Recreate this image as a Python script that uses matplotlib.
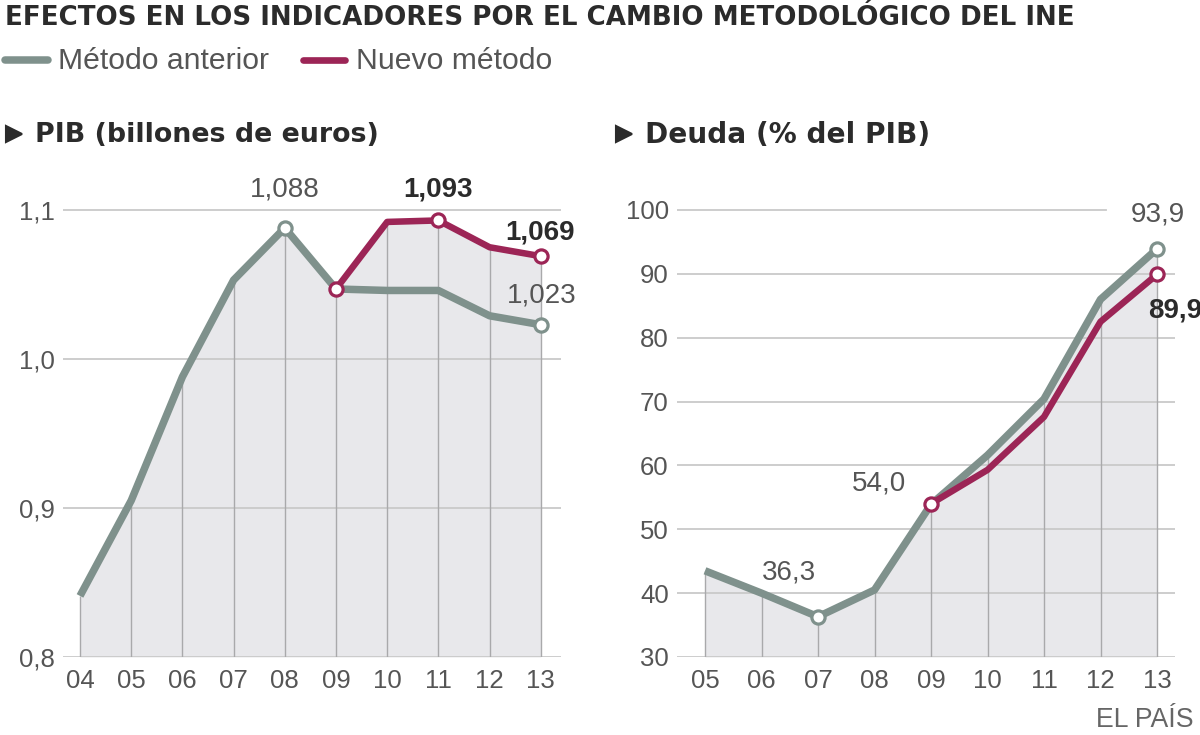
import numpy as np
import matplotlib
matplotlib.use("Agg")
import matplotlib.pyplot as plt
from matplotlib.lines import Line2D

# ---------------- data ----------------
pib_years = ["04", "05", "06", "07", "08", "09", "10", "11", "12", "13"]
pib_anterior = [0.841, 0.905, 0.988, 1.053, 1.088, 1.047, 1.046, 1.046, 1.029, 1.023]
pib_nuevo = [np.nan, np.nan, np.nan, np.nan, np.nan, 1.047, 1.092, 1.093, 1.075, 1.069]
pib_yticks = [0.8, 0.9, 1.0, 1.1]
pib_yticklabels = ["0,8", "0,9", "1,0", "1,1"]

deuda_years = ["05", "06", "07", "08", "09", "10", "11", "12", "13"]
deuda_anterior = [43.5, 40.0, 36.3, 40.5, 53.9, 61.6, 70.4, 86.0, 93.9]
deuda_nuevo = [np.nan, np.nan, np.nan, np.nan, 54.0, 59.3, 67.6, 82.5, 89.9]
deuda_yticks = [30, 40, 50, 60, 70, 80, 90, 100]
deuda_yticklabels = ["30", "40", "50", "60", "70", "80", "90", "100"]

# ---------------- style ----------------
W, H = 1200, 735
GRAY = "#7f918c"
RED = "#9c2556"
FILL = "#e8e8eb"
GRID = "#c9c9c9"
VGRID = "#a9a9ab"
TXT = "#555555"
DARK = "#2b2b2b"
SANS = ["Liberation Sans", "DejaVu Sans"]
BOLD = ["DejaVu Sans"]

fig = plt.figure(figsize=(12, 7.35), dpi=100)
fig.patch.set_facecolor("white")


def ax_at(x0, x1, ytop, ybot):
    return fig.add_axes([x0 / W, 1 - ybot / H, (x1 - x0) / W, (ybot - ytop) / H])


def draw(ax, cats, old, new, yticks, ylabels, xlim, ylim, short_top=None):
    x = np.arange(len(cats))
    old = np.array(old, float)
    new = np.array(new, float)
    top = np.fmax(old, new)
    ax.set_xlim(*xlim)
    ax.set_ylim(*ylim)
    ax.fill_between(x, ylim[0], top, color=FILL, lw=0, zorder=1)
    for yt in yticks:
        xmax = 1.0
        if short_top is not None and yt == yticks[-1]:
            xmax = short_top
        ax.axhline(yt, xmin=0, xmax=xmax, color=GRID, lw=1.3, zorder=2)
    ax.vlines(x, ylim[0], top, color=VGRID, lw=1.0, zorder=2)
    ax.plot(x, old, color=GRAY, lw=5.4, solid_joinstyle="round",
            solid_capstyle="butt", zorder=3)
    ax.plot(x, new, color=RED, lw=4.7, solid_joinstyle="round",
            solid_capstyle="butt", zorder=4)
    for s in ax.spines.values():
        s.set_visible(False)
    ax.set_xticks(x, cats)
    ax.set_yticks(yticks, ylabels)
    ax.tick_params(length=0, labelsize=18.5, labelcolor=TXT)
    ax.tick_params(axis="x", pad=9)
    ax.tick_params(axis="y", pad=6)
    for lab in ax.get_xticklabels() + ax.get_yticklabels():
        lab.set_family(SANS)
    ax.patch.set_alpha(0)
    return x, old, new


def marker(ax, xv, yv, color):
    ax.plot([xv], [yv], "o", ms=9.5, mfc="white", mec=color, mew=2.3, zorder=5)


def label(ax, xv, yv, text, dx, dy, bold=False):
    ax.annotate(text, (xv, yv), xytext=(dx * 0.72, dy * 0.72), textcoords="offset points",
                ha="center", va="center", fontsize=20, family=SANS,
                fontweight="bold" if bold else "normal",
                color=DARK if bold else TXT, zorder=6, annotation_clip=False)


# ---------------- left: PIB ----------------
axL = ax_at(63, 561, 175, 657)
xL, oL, nL = draw(axL, pib_years, pib_anterior, pib_nuevo, pib_yticks, pib_yticklabels,
                  ((63 - 80) / 51.2, (561 - 80) / 51.2),
                  (0.8, 0.8 + (657 - 175) / 1490.0))
marker(axL, xL[4], oL[4], GRAY)
marker(axL, xL[9], oL[9], GRAY)
marker(axL, xL[5], nL[5], RED)
marker(axL, xL[7], nL[7], RED)
marker(axL, xL[9], nL[9], RED)
label(axL, xL[4], oL[4], "1,088", 0, 38)
label(axL, xL[7], nL[7], "1,093", 0, 31, bold=True)
label(axL, xL[9], nL[9], "1,069", -1, 24, bold=True)
label(axL, xL[9], oL[9], "1,023", 1, 29)

# ---------------- right: Deuda ----------------
axR = ax_at(677, 1175, 175, 657)
xR, oR, nR = draw(axR, deuda_years, deuda_anterior, deuda_nuevo, deuda_yticks, deuda_yticklabels,
                  ((677 - 705) / 56.5, (1175 - 705) / 56.5),
                  (30, 30 + (657 - 175) / 6.386),
                  short_top=(1106 - 677) / 498.0)
marker(axR, xR[2], oR[2], GRAY)
marker(axR, xR[8], oR[8], GRAY)
marker(axR, xR[4], nR[4], RED)
marker(axR, xR[8], nR[8], RED)
label(axR, xR[2], oR[2], "36,3", -29, 44)
label(axR, xR[4], nR[4], "54,0", -52, 20)
label(axR, xR[8], oR[8], "93,9", 1, 34)
label(axR, xR[8], nR[8], "89,9", 18, -36, bold=True)

# ---------------- texts ----------------
renderer = fig.canvas.get_renderer()


def fit(t, width_px):
    bb = t.get_window_extent(renderer)
    t.set_fontsize(t.get_fontsize() * width_px / bb.width)


title = fig.text(5 / W, 1 - 18 / H, "EFECTOS EN LOS INDICADORES POR EL CAMBIO METODOLÓGICO DEL INE",
                 ha="left", va="center", fontsize=18, fontweight="bold", family=BOLD, color=DARK)
fit(title, 1070)

fig.add_artist(Line2D([5 / W, 48 / W], [1 - 60 / H] * 2, color=GRAY, lw=5.4,
                      solid_capstyle="round", transform=fig.transFigure))
t1 = fig.text(58 / W, 1 - 61 / H, "Método anterior", ha="left", va="center",
              fontsize=20, family=SANS, color=TXT)
fit(t1, 210)
fig.add_artist(Line2D([303 / W, 345 / W], [1 - 60 / H] * 2, color=RED, lw=4.8,
                      solid_capstyle="round", transform=fig.transFigure))
t2 = fig.text(356 / W, 1 - 61 / H, "Nuevo método", ha="left", va="center",
              fontsize=20, family=SANS, color=TXT)
fit(t2, 195)

for (tx, ttxt, wpx) in [(35, "PIB (billones de euros)", 345), (645, "Deuda (% del PIB)", 285)]:
    st = fig.text(tx / W, 1 - 135 / H, ttxt, ha="left", va="center", fontsize=20,
                  fontweight="bold", family=BOLD, color=DARK)
    fit(st, wpx)
    fig.add_artist(Line2D([(tx - 21) / W], [1 - 134 / H], marker=">", ms=12,
                          color=DARK, mec=DARK, mew=1.5, lw=0, transform=fig.transFigure))

src = fig.text(1193 / W, 1 - 720 / H, "EL PAÍS", ha="right", va="center",
               fontsize=17, family=SANS, color="#666666")
fit(src, 98)

fig.savefig("out.png", dpi=100, facecolor="white")
